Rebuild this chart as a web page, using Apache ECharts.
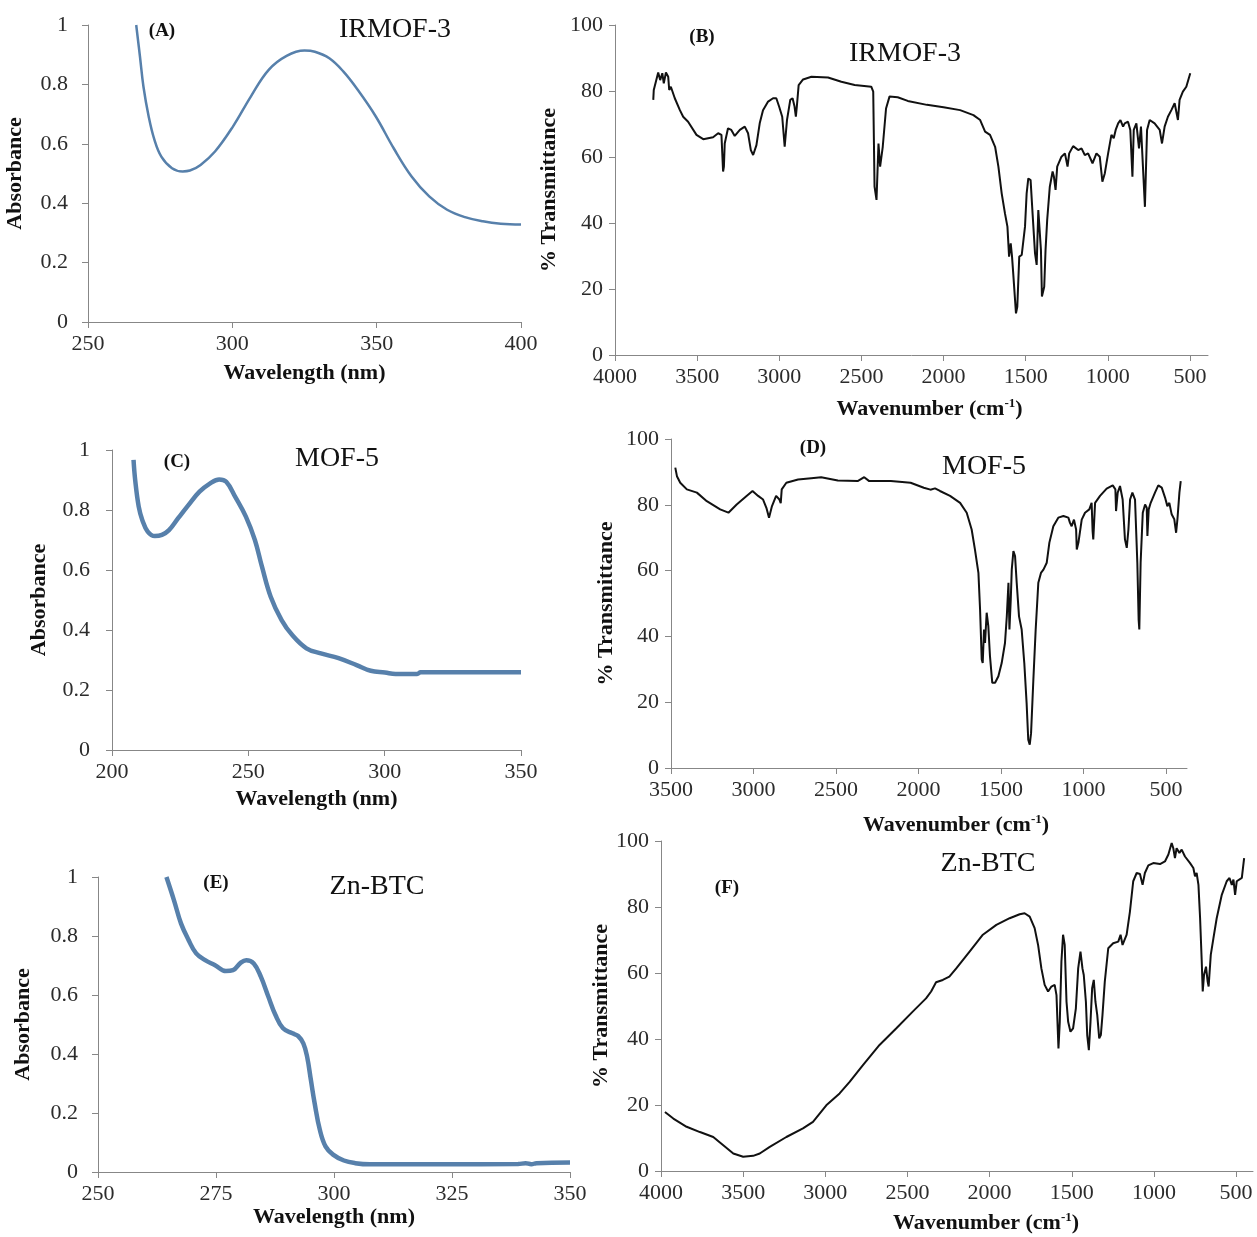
<!DOCTYPE html>
<html>
<head>
<meta charset="utf-8">
<title>UV-Vis and FT-IR spectra</title>
<script src="https://cdn.jsdelivr.net/npm/echarts@6/dist/echarts.min.js"></script>
<style>
  html, body { margin: 0; padding: 0; background: #fff; }
</style>
</head>
<body>
<div id="main" style="width: 1257px; height: 1237px;"></div>
<script type="text/javascript">
// (A) IRMOF-3 UV-Vis
var aWavelength = [266.7, 268, 269.2, 271, 273, 275.4, 279.1, 282.8, 285.3, 289, 294, 300.2, 306.4, 312.6, 318.8, 325, 328.6, 333.6, 338.5, 343.5, 349.7, 355.9, 362.1, 368.2, 374.4, 380.6, 386.8, 393, 400];
var aAbsorbance = [1.0, 0.894, 0.793, 0.693, 0.614, 0.557, 0.518, 0.507, 0.51, 0.529, 0.574, 0.658, 0.759, 0.849, 0.896, 0.914, 0.91, 0.888, 0.843, 0.781, 0.692, 0.585, 0.49, 0.423, 0.378, 0.353, 0.339, 0.331, 0.328];

// (B) IRMOF-3 FT-IR
var bWavenumber = [3767, 3764, 3737, 3725, 3712, 3703, 3690, 3676, 3670, 3660, 3636, 3605, 3585, 3555, 3504, 3463, 3403, 3372, 3352, 3342, 3337, 3332, 3312, 3292, 3271, 3240, 3210, 3190, 3173, 3159, 3139, 3119, 3099, 3068, 3038, 3018, 3001, 2982, 2967, 2960, 2953, 2933, 2919, 2907, 2899, 2893, 2882, 2855, 2804, 2703, 2622, 2541, 2440, 2428, 2420, 2408, 2396, 2386, 2370, 2350, 2329, 2279, 2218, 2101, 2000, 1899, 1818, 1777, 1747, 1717, 1686, 1666, 1646, 1626, 1611, 1601, 1591, 1583, 1575, 1567, 1559, 1551, 1539, 1524, 1504, 1494, 1484, 1470, 1458, 1443, 1433, 1423, 1413, 1407, 1401, 1387, 1379, 1369, 1353, 1336, 1328, 1318, 1308, 1282, 1261, 1245, 1235, 1211, 1180, 1160, 1140, 1120, 1093, 1069, 1049, 1033, 1018, 998, 978, 964, 952, 937, 923, 907, 897, 877, 863, 850, 842, 826, 810, 798, 786, 774, 761, 745, 715, 684, 670, 654, 634, 613, 593, 573, 563, 543, 522, 498];
var bTransmittance = [77.3, 80.3, 85.6, 83.3, 85.4, 82.3, 85.6, 84.3, 80.3, 81.3, 77.8, 74.2, 72.2, 70.7, 66.7, 65.4, 66.0, 67.2, 66.7, 55.6, 57.1, 64.1, 68.7, 68.2, 66.4, 68.2, 69.2, 67.2, 62.1, 60.6, 63.6, 70.2, 74.2, 76.8, 77.8, 77.8, 75.3, 72.2, 63.1, 63.1, 71.2, 77.3, 77.8, 75.3, 72.2, 75.3, 81.8, 83.5, 84.3, 84.1, 82.8, 81.8, 81.3, 79.8, 51.0, 47.0, 64.1, 57.1, 63.1, 74.7, 78.3, 78.1, 77.0, 75.8, 75.1, 74.2, 72.7, 71.2, 67.7, 66.7, 63.1, 57.1, 49.0, 42.9, 38.9, 29.8, 33.8, 29.8, 24.2, 24.0, 12.6, 14.6, 29.8, 30.3, 38.9, 49.0, 53.5, 53.0, 42.9, 30.8, 27.3, 43.9, 43.9, 31.8, 17.7, 20.7, 31.8, 40.9, 51.0, 55.6, 54.0, 50.0, 57.1, 60.1, 61.1, 57.1, 61.1, 63.3, 62.1, 62.6, 60.6, 61.1, 58.1, 61.1, 60.1, 52.5, 55.1, 61.1, 66.7, 65.7, 68.2, 70.2, 71.2, 69.2, 70.2, 70.7, 68.2, 54.0, 68.2, 70.2, 62.6, 69.2, 69.7, 44.9, 68.2, 71.2, 70.2, 68.2, 64.1, 69.2, 72.2, 74.2, 76.3, 71.2, 77.3, 79.8, 81.3, 85.4];

// (C) MOF-5 UV-Vis
var cWavelength = [207.9, 208.5, 209.8, 211.1, 213.1, 215.7, 218.3, 220.9, 224.2, 228.1, 232.1, 236, 239.3, 241.9, 245.2, 249.1, 252.4, 255, 258.2, 262.2, 266.1, 271.3, 276.6, 283.1, 289.7, 294.9, 300.1, 304, 311.9, 313.2, 328.9, 350];
var cAbsorbance = [0.967, 0.9, 0.811, 0.767, 0.728, 0.713, 0.717, 0.733, 0.772, 0.817, 0.861, 0.889, 0.902, 0.894, 0.844, 0.778, 0.7, 0.611, 0.511, 0.433, 0.383, 0.339, 0.322, 0.306, 0.283, 0.264, 0.258, 0.253, 0.253, 0.259, 0.259, 0.259];

// (D) MOF-5 FT-IR
var dWavenumber = [3474, 3464, 3444, 3404, 3343, 3283, 3202, 3152, 3102, 3042, 3006, 2972, 2942, 2922, 2906, 2896, 2888, 2863, 2843, 2835, 2829, 2801, 2730, 2650, 2590, 2489, 2369, 2329, 2299, 2168, 2048, 1968, 1928, 1900, 1870, 1809, 1748, 1708, 1678, 1658, 1637, 1627, 1617, 1611, 1603, 1597, 1587, 1577, 1567, 1553, 1536, 1516, 1496, 1476, 1465, 1455, 1452, 1449, 1441, 1435, 1425, 1415, 1405, 1391, 1375, 1359, 1345, 1335, 1326, 1318, 1304, 1290, 1274, 1258, 1243, 1223, 1207, 1183, 1153, 1122, 1092, 1082, 1072, 1058, 1045, 1041, 1031, 1011, 991, 965, 951, 945, 941, 930, 900, 860, 823, 807, 803, 793, 779, 763, 749, 738, 728, 718, 704, 688, 674, 666, 662, 654, 641, 627, 617, 613, 605, 593, 581, 567, 547, 526, 506, 492, 480, 466, 450, 439, 431, 419, 411];
var dTransmittance = [91.3, 88.7, 86.7, 84.7, 83.7, 81.1, 78.6, 77.6, 80.1, 82.7, 84.2, 82.7, 81.6, 79.1, 76.1, 76.1, 79.6, 82.7, 81.6, 80.5, 84.7, 86.7, 87.7, 88.1, 88.4, 87.4, 87.2, 88.4, 87.2, 87.2, 86.7, 85.2, 84.6, 85.0, 84.2, 82.7, 80.6, 77.6, 72.5, 66.4, 59.3, 48.2, 33.0, 31.9, 42.1, 38.0, 47.2, 43.1, 34.0, 25.9, 25.9, 27.9, 31.9, 38.0, 46.1, 56.3, 56.3, 42.1, 51.2, 60.3, 65.9, 64.4, 56.3, 46.1, 42.1, 31.9, 19.8, 8.6, 7.1, 10.6, 26.9, 42.1, 56.3, 59.3, 60.3, 62.4, 68.5, 73.5, 76.1, 76.6, 76.1, 74.5, 73.5, 75.5, 72.5, 66.4, 68.5, 75.5, 77.6, 78.6, 80.6, 72.0, 69.5, 80.6, 82.7, 84.9, 85.9, 84.7, 78.1, 83.7, 85.7, 81.6, 69.5, 66.9, 72.5, 81.6, 83.7, 81.6, 62.4, 45.0, 42.1, 62.4, 77.6, 80.1, 79.1, 70.5, 78.6, 80.6, 80.1, 83.7, 85.9, 85.2, 82.2, 79.6, 80.6, 77.1, 75.6, 71.5, 75.6, 83.7, 87.2];

// (E) Zn-BTC UV-Vis
var eWavelength = [264.5, 266.1, 267.6, 269.2, 270.8, 272.7, 274.8, 277.1, 278.6, 280.2, 281.4, 283, 284.5, 286.1, 287.6, 289.2, 291.2, 292.4, 293.5, 294.3, 295.1, 295.9, 297, 298.2, 299.8, 302.1, 304.5, 307.6, 323.3, 339, 340.6, 341.8, 342.9, 350];
var eAbsorbance = [1.0, 0.921, 0.842, 0.786, 0.741, 0.718, 0.701, 0.681, 0.684, 0.709, 0.718, 0.707, 0.662, 0.594, 0.532, 0.487, 0.47, 0.461, 0.436, 0.391, 0.312, 0.233, 0.143, 0.087, 0.059, 0.039, 0.03, 0.026, 0.026, 0.027, 0.03, 0.026, 0.03, 0.032];

// (F) Zn-BTC FT-IR
var fWavenumber = [3976, 3925, 3844, 3763, 3682, 3621, 3560, 3500, 3439, 3399, 3338, 3237, 3136, 3075, 2994, 2913, 2852, 2771, 2670, 2569, 2468, 2387, 2356, 2326, 2285, 2245, 2203, 2122, 2041, 1959, 1878, 1817, 1787, 1756, 1726, 1705, 1685, 1665, 1644, 1624, 1604, 1593, 1581, 1573, 1563, 1553, 1543, 1532, 1522, 1508, 1492, 1475, 1461, 1447, 1435, 1427, 1414, 1406, 1396, 1386, 1376, 1366, 1356, 1345, 1333, 1323, 1313, 1299, 1278, 1248, 1217, 1203, 1191, 1166, 1146, 1126, 1105, 1085, 1069, 1055, 1034, 1004, 963, 933, 912, 892, 882, 872, 862, 845, 831, 811, 780, 760, 750, 740, 729, 719, 709, 703, 695, 683, 673, 667, 654, 638, 618, 587, 557, 540, 526, 516, 506, 496, 465, 451];
var fTransmittance = [17.9, 15.9, 13.4, 11.8, 10.3, 7.8, 5.3, 4.3, 4.6, 5.3, 7.3, 10.3, 12.9, 14.9, 19.9, 23.5, 27.0, 32.1, 38.2, 43.2, 48.3, 52.3, 54.4, 57.2, 57.9, 58.9, 61.4, 66.5, 71.6, 74.6, 76.6, 77.8, 78.1, 77.1, 73.6, 68.5, 61.4, 56.4, 54.4, 55.9, 56.4, 53.3, 37.1, 45.2, 63.5, 71.6, 68.5, 51.3, 45.2, 42.2, 43.2, 49.3, 61.4, 66.5, 61.4, 59.4, 51.3, 41.2, 36.6, 45.2, 55.4, 57.9, 51.3, 47.3, 40.2, 41.2, 47.3, 57.4, 67.5, 69.0, 69.5, 71.6, 68.5, 71.6, 78.6, 87.8, 90.3, 90.0, 86.7, 90.3, 92.6, 93.3, 93.0, 93.8, 95.9, 99.4, 97.8, 94.8, 97.8, 96.4, 97.4, 95.3, 93.3, 91.8, 89.3, 90.3, 86.7, 76.6, 63.5, 54.4, 59.4, 61.9, 57.4, 55.9, 65.5, 70.5, 76.6, 83.7, 87.8, 88.8, 86.7, 88.3, 83.7, 87.8, 88.8, 94.8];

var irTicks = [4000, 3500, 3000, 2500, 2000, 1500, 1000, 500];
var irTicksD = [3500, 3000, 2500, 2000, 1500, 1000, 500];

var FONT = 'Liberation Serif';
var AXIS_GREY = '#878787';
var UV_BLUE = '#5780ab';

function zip(xs, ys) {
  return xs.map(function (x, i) { return [x, ys[i]]; });
}

// plain numbers, no thousands separator
function plain(v) { return String(v); }

var wavenumberName = 'Wavenumber (cm{sup|-1})';
var nameRich = {
  sup: { fontFamily: FONT, fontWeight: 'bold', fontSize: 13, verticalAlign: 'top', lineHeight: 24, color: '#111' }
};

function baseAxis(extra) {
  var ax = {
    type: 'value',
    axisLine: { show: true, onZero: false, lineStyle: { color: AXIS_GREY, width: 1 } },
    axisTick: { show: true, length: 6, lineStyle: { color: AXIS_GREY } },
    splitLine: { show: false },
    axisLabel: { fontFamily: FONT, fontSize: 22, color: '#2b2b2b', margin: 11, formatter: plain },
    nameLocation: 'middle',
    nameTextStyle: { fontFamily: FONT, fontWeight: 'bold', fontSize: 22, color: '#111' }
  };
  for (var k in extra) {
    if (k === 'axisLabel' || k === 'axisTick' || k === 'nameTextStyle') {
      for (var j in extra[k]) ax[k][j] = extra[k][j];
    } else {
      ax[k] = extra[k];
    }
  }
  return ax;
}

var grids = [
  { left: 88, top: 25, width: 433, height: 297 },   // A
  { left: 615, top: 25, width: 593, height: 330 },  // B
  { left: 112, top: 450, width: 409, height: 300 }, // C
  { left: 671, top: 439, width: 516, height: 329 }, // D
  { left: 98, top: 877, width: 472, height: 295 },  // E
  { left: 661, top: 841, width: 592, height: 330 }  // F
];

var xAxes = [
  baseAxis({ gridIndex: 0, min: 250, max: 400, interval: 50, name: 'Wavelength (nm)', nameGap: 40 }),
  baseAxis({ gridIndex: 1, inverse: true, min: 390, max: 4000, name: wavenumberName, nameGap: 42,
    axisLabel: { customValues: irTicks }, axisTick: { customValues: irTicks },
    nameTextStyle: { rich: nameRich, padding: [0, 0, 0, 36] } }),
  baseAxis({ gridIndex: 2, min: 200, max: 350, interval: 50, name: 'Wavelength (nm)', nameGap: 38 }),
  baseAxis({ gridIndex: 3, inverse: true, min: 373, max: 3500, name: wavenumberName, nameGap: 45,
    axisLabel: { customValues: irTicksD }, axisTick: { customValues: irTicksD },
    nameTextStyle: { rich: nameRich, padding: [0, 0, 0, 54] } }),
  baseAxis({ gridIndex: 4, min: 250, max: 350, interval: 25, name: 'Wavelength (nm)', nameGap: 32 }),
  baseAxis({ gridIndex: 5, inverse: true, min: 397, max: 4000, name: wavenumberName, nameGap: 40,
    axisLabel: { customValues: irTicks }, axisTick: { customValues: irTicks },
    nameTextStyle: { rich: nameRich, padding: [0, 0, 0, 58] } })
];

var yAxes = [
  baseAxis({ gridIndex: 0, min: 0, max: 1, interval: 0.2, name: 'Absorbance', nameGap: 62, axisLabel: { margin: 20 } }),
  baseAxis({ gridIndex: 1, min: 0, max: 100, interval: 20, name: '% Transmittance', nameGap: 55, axisLabel: { margin: 12 } }),
  baseAxis({ gridIndex: 2, min: 0, max: 1, interval: 0.2, name: 'Absorbance', nameGap: 62, axisLabel: { margin: 22 } }),
  baseAxis({ gridIndex: 3, min: 0, max: 100, interval: 20, name: '% Transmittance', nameGap: 54, axisLabel: { margin: 12 } }),
  baseAxis({ gridIndex: 4, min: 0, max: 1, interval: 0.2, name: 'Absorbance', nameGap: 64, axisLabel: { margin: 20 } }),
  baseAxis({ gridIndex: 5, min: 0, max: 100, interval: 20, name: '% Transmittance', nameGap: 48, axisLabel: { margin: 12 } })
];

function uvSeries(idx, data, width) {
  return {
    type: 'line', xAxisIndex: idx, yAxisIndex: idx, data: data,
    symbol: 'none', smooth: 0.4, lineStyle: { color: UV_BLUE, width: width }
  };
}
function irSeries(idx, data) {
  return {
    type: 'line', xAxisIndex: idx, yAxisIndex: idx, data: data,
    symbol: 'none', lineStyle: { color: '#111', width: 2 }
  };
}

// panel letters and sample names
var labels = [
  ['(A)', 162, 31, true], ['IRMOF-3', 395, 30, false],
  ['(B)', 702, 37, true], ['IRMOF-3', 905, 54, false],
  ['(C)', 177, 462, true], ['MOF-5', 337, 459, false],
  ['(D)', 813, 448, true], ['MOF-5', 984, 467, false],
  ['(E)', 216, 883, true], ['Zn-BTC', 377, 887, false],
  ['(F)', 727, 888, true], ['Zn-BTC', 988, 864, false]
];

var myChart = echarts.init(document.getElementById('main'), null, { renderer: 'canvas' });

var option = {
  backgroundColor: '#fff',
  animation: false,
  grid: grids,
  xAxis: xAxes,
  yAxis: yAxes,
  graphic: labels.map(function (l) {
    return {
      type: 'text', x: l[1], y: l[2],
      style: {
        text: l[0], fontFamily: FONT,
        fontSize: l[3] ? 19 : 28,
        fontWeight: l[3] ? 'bold' : 'normal',
        fill: '#111', textAlign: 'center', textVerticalAlign: 'middle'
      }
    };
  }),
  series: [
    uvSeries(0, zip(aWavelength, aAbsorbance), 2.5),
    irSeries(1, zip(bWavenumber, bTransmittance)),
    uvSeries(2, zip(cWavelength, cAbsorbance), 4.5),
    irSeries(3, zip(dWavenumber, dTransmittance)),
    uvSeries(4, zip(eWavelength, eAbsorbance), 4.5),
    irSeries(5, zip(fWavenumber, fTransmittance))
  ]
};

myChart.setOption(option);
</script>
</body>
</html>
